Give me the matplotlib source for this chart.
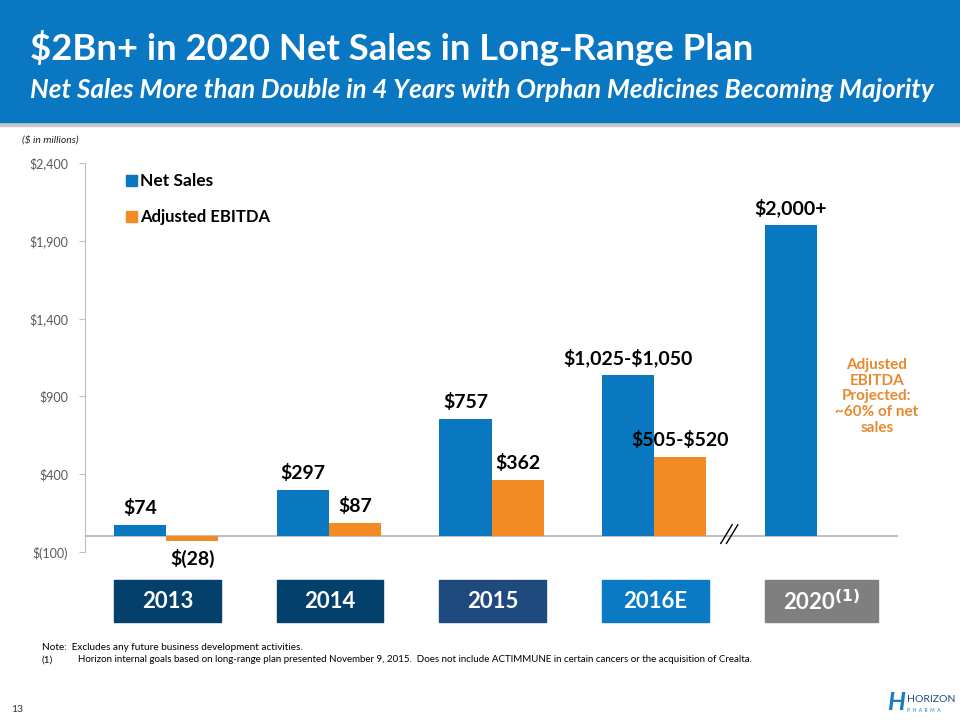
import matplotlib
matplotlib.use("Agg")
import matplotlib.pyplot as plt
from matplotlib.patches import Rectangle
from matplotlib.transforms import blended_transform_factory

years = ["2013", "2014", "2015", "2016E", "2020"]
net_sales = [74, 297, 757, 1037.5, 2000]
ebitda = [-28, 87, 362, 512.5]
net_labels = [r"\$74", r"\$297", r"\$757", r"\$1,025-\$1,050", r"\$2,000+"]
ebitda_labels = [r"\$(28)", r"\$87", r"\$362", r"\$505-\$520"]
yticks = [-100, 400, 900, 1400, 1900, 2400]
ytick_labels = [r"\$(100)", r"\$400", r"\$900", r"\$1,400", r"\$1,900", r"\$2,400"]
box_colors = ["#03406B", "#03406B", "#1F4A7E", "#0A7AC4", "#7F7F7F"]

BLUE = "#0A78C0"
ORANGE = "#F28B24"
FONT = "Lato"

fig = plt.figure(figsize=(9.6, 7.2), dpi=100)

# header band
fig.patches.append(Rectangle((0, 1 - 126 / 720), 1, 6 / 720, transform=fig.transFigure,
                             color="#C8C8C8", zorder=0))
fig.patches.append(Rectangle((0, 1 - 122 / 720), 1, 122 / 720, transform=fig.transFigure,
                             color="#0A77C3", zorder=1))
fig.text(30 / 960, 1 - 48 / 720, r"\$2Bn+ in 2020 Net Sales in Long-Range Plan", color="white",
         fontsize=26.3, fontweight="bold", family=FONT, va="center", ha="left")
fig.text(30 / 960, 1 - 90 / 720,
         "Net Sales More than Double in 4 Years with Orphan Medicines Becoming Majority",
         color="white", fontsize=18.8, fontweight="bold", style="italic", family=FONT,
         va="center", ha="left")
fig.text(22 / 960, 1 - 140 / 720, r"(\$ in millions)", fontsize=7.5, style="italic",
         family=FONT, va="center", color="#222222")

ax = fig.add_axes([85 / 960, 1 - 552 / 720, 813 / 960, 389 / 720])
w = 0.32
x = list(range(len(years)))
ax.bar([i - w / 2 for i in x], net_sales, width=w, color=BLUE, zorder=2)
ax.bar([i + w / 2 for i in range(len(ebitda))], ebitda, width=w, color=ORANGE, zorder=2)
ax.axhline(0, color="#BFBFBF", lw=1.5, zorder=1)

ax.set_xlim(-0.5, 4.5)
ax.set_ylim(-100, 2400)
ax.set_yticks(yticks)
ax.set_yticklabels(ytick_labels, family=FONT, fontsize=9, color="#595959")
ax.set_xticks([])
for s in ["top", "right", "bottom"]:
    ax.spines[s].set_visible(False)
ax.spines["left"].set_color("#BFBFBF")
ax.tick_params(axis="y", length=4, color="#BFBFBF", pad=8)

lab = dict(family=FONT, fontsize=14, fontweight="bold", ha="center", color="black")
for i, (v, t) in enumerate(zip(net_sales, net_labels)):
    ax.text(i - w / 2, v + 50, t, va="bottom", **lab)
for i, (v, t) in enumerate(zip(ebitda, ebitda_labels)):
    if v < 0:
        ax.text(i + w / 2, v - 55, t, va="top", **lab)
    else:
        ax.text(i + w / 2, v + 50, t, va="bottom", **lab)

# axis break marks
for dx in (0, 0.035):
    ax.plot([3.41 + dx, 3.48 + dx], [-45, 75], color="black", lw=1, zorder=3, clip_on=False)

# legend
ax.add_patch(Rectangle((-0.25, 2250), 0.068, 70, color=BLUE))
ax.add_patch(Rectangle((-0.25, 2020), 0.068, 70, color=ORANGE))
ax.text(-0.16, 2285, "Net Sales", family=FONT, fontsize=12.5, fontweight="bold", va="center")
ax.text(-0.16, 2055, "Adjusted EBITDA", family=FONT, fontsize=12, fontweight="bold",
        va="center")

ax.text(4.37, 900, "Adjusted\nEBITDA\nProjected:\n~60% of net\nsales", color="#E8892E",
        family=FONT, fontsize=11, fontweight="bold", ha="center", va="center",
        linespacing=1.15)

# year boxes
tr = blended_transform_factory(ax.transData, fig.transFigure)
for i, (yr, c) in enumerate(zip(years, box_colors)):
    right = 0.38 if i == 4 else 0.335
    fig.patches.append(Rectangle((i - 0.32, 1 - 622 / 720), 0.32 + right, 42 / 720,
                                 transform=tr, color=c, zorder=1))
    label = yr if i < 4 else r"2020$^{\mathbf{(1)}}$"
    fig.text(i + (right - 0.32) / 2, 1 - 602 / 720, label, transform=tr, color="white",
             family=FONT, fontsize=16, fontweight="bold", ha="center", va="center")

fig.text(42 / 960, 1 - 647 / 720, "Note:  Excludes any future business development activities.",
         family=FONT, fontsize=7.2, va="center")
fig.text(42 / 960, 1 - 660 / 720, "(1)", family=FONT, fontsize=7.2, va="center")
fig.text(78 / 960, 1 - 660 / 720,
         "Horizon internal goals based on long-range plan presented November 9, 2015.  "
         "Does not include ACTIMMUNE in certain cancers or the acquisition of Crealta.",
         family=FONT, fontsize=7.05, va="center")
fig.text(11 / 960, 1 - 709 / 720, "13", family=FONT, fontsize=7.5, color="#333333", va="center")

# logo
fig.text(905 / 960, 1 - 703 / 720, "H", family=FONT, fontsize=18, fontweight="bold",
         style="italic", color="#1A7CC1", ha="right", va="center")
fig.text(907 / 960, 1 - 700 / 720, "HORIZON", family=FONT, fontsize=7.5, color="#1F4A7E",
         va="center")
fig.text(907 / 960, 1 - 711 / 720, "P  H  A  R  M  A", family=FONT, fontsize=3.5,
         color="#1A7CC1", va="center")

fig.savefig("out.png", dpi=100)
